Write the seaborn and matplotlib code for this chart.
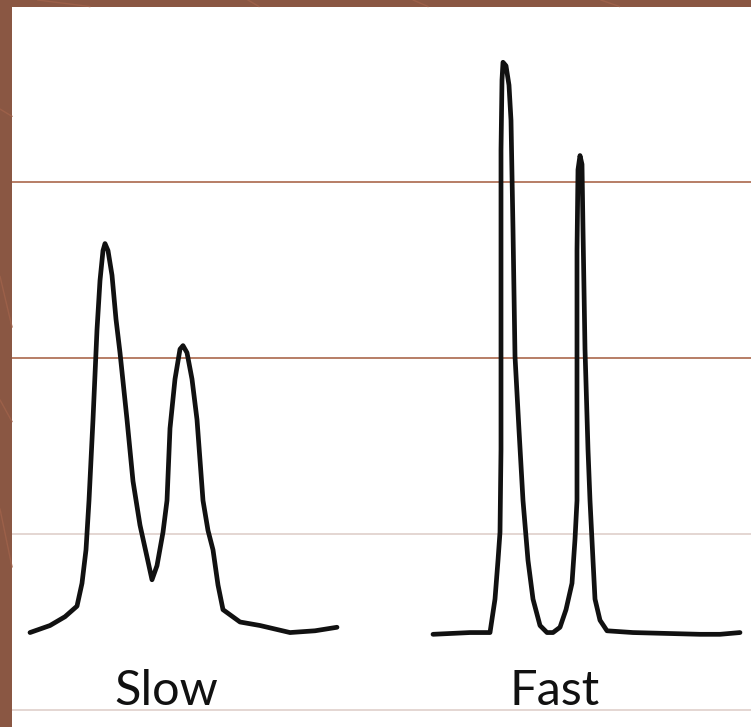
import matplotlib
matplotlib.use("Agg")
import matplotlib.pyplot as plt
import seaborn as sns
import pandas as pd

# traces (time in arbitrary units, signal in grid units)
slow_time = [30, 50, 65, 77, 82, 86, 89, 91, 93, 97, 100, 103, 105, 108, 112, 116, 120, 127, 133, 140,
             147, 152, 157, 163, 167, 170, 175, 180, 183, 187, 192, 197, 203, 208, 213, 218, 223, 240, 260, 290,
             315, 337]
slow_signal = [0.44, 0.48, 0.53, 0.59, 0.72, 0.91, 1.19, 1.42, 1.65, 2.16, 2.44, 2.61, 2.65, 2.61, 2.47, 2.22, 2.03, 1.65, 1.30, 1.05,
               0.87, 0.74, 0.82, 1.01, 1.19, 1.60, 1.88, 2.05, 2.07, 2.03, 1.88, 1.65, 1.19, 1.02, 0.91, 0.71, 0.57, 0.50, 0.48, 0.44,
               0.45, 0.47]

fast_time = [433, 470, 490, 495, 498, 500, 501, 501, 501, 502, 503, 506, 509, 511, 513, 515, 519, 523, 528, 533,
             540, 547, 553, 560, 566, 572, 575, 577, 577, 577, 578, 580, 582, 583, 585, 588, 590, 593, 595, 600,
             607, 633, 700, 720, 740]
fast_signal = [0.43, 0.44, 0.44, 0.63, 0.85, 1.01, 1.48, 2.33, 3.18, 3.58, 3.68, 3.66, 3.55, 3.35, 2.73, 2.01, 1.59, 1.19, 0.85, 0.63,
               0.48, 0.44, 0.44, 0.47, 0.57, 0.72, 0.97, 1.19, 1.76, 2.61, 3.07, 3.15, 3.10, 2.73, 2.05, 1.48, 1.19, 0.85, 0.63, 0.51,
               0.45, 0.44, 0.43, 0.43, 0.44]

labels = ["Slow", "Fast"]
label_time = [166, 555]

grid_levels = [0, 1, 2, 3]
grid_colors = ["#dccbc6", "#dccbc6", "#a35a3c", "#a35a3c"]


def main():
    sns.set_style("white")
    plt.rcParams['font.family'] = ['Lato', 'DejaVu Sans']

    fig = plt.figure(figsize=(7.51, 7.27), dpi=100, facecolor="#8a5743")

    # faint diagonal texture on the brown frame
    for x0, y0, x1, y1 in [(0, 0.62, 0.016, 0.55), (0, 0.45, 0.016, 0.42), (0.0, 0.30, 0.016, 0.22),
                           (0.05, 1.0, 0.12, 0.991), (0.33, 1.0, 0.345, 0.991), (0.55, 1.0, 0.57, 0.991),
                           (0.0, 0.85, 0.016, 0.84), (0.8, 1.0, 0.825, 0.991)]:
        fig.add_artist(plt.Line2D([x0, x1], [y0, y1], color="#9c6049", lw=1.0))

    ax = fig.add_axes([12 / 751, 0, 739 / 751, 720 / 727])
    ax.set_facecolor("white")

    for lvl, col in zip(grid_levels, grid_colors):
        ax.axhline(lvl, color=col, lw=1.1, zorder=1)

    df = pd.concat([
        pd.DataFrame({"time": slow_time, "signal": slow_signal, "run": "Slow"}),
        pd.DataFrame({"time": fast_time, "signal": fast_signal, "run": "Fast"}),
    ])
    sns.lineplot(data=df, x="time", y="signal", units="run", estimator=None, sort=False,
                 color="#111111", lw=3.4, ax=ax, zorder=3)

    for lab, t in zip(labels, label_time):
        ax.text(t, 0.03, lab, ha="center", va="baseline", fontsize=35, color="#111111")

    ax.set_xlim(12, 751)
    ax.set_ylim(-0.0966, 3.994)
    ax.set_xticks([])
    ax.set_yticks([])
    ax.set_xlabel("")
    ax.set_ylabel("")
    sns.despine(ax=ax, left=True, bottom=True)

    fig.savefig("out.png", dpi=100, facecolor=fig.get_facecolor())


if __name__ == "__main__":
    main()
